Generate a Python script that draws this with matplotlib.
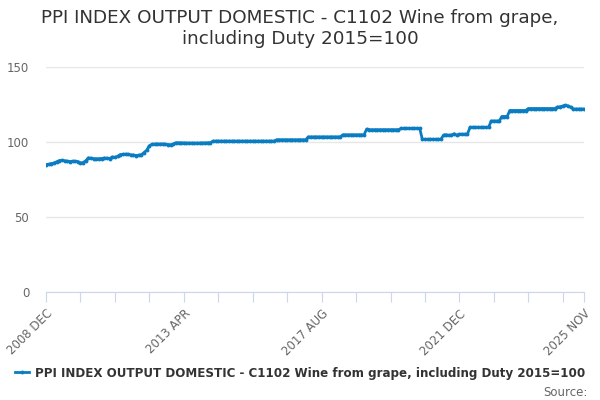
import matplotlib
matplotlib.use("Agg")
import matplotlib.pyplot as plt
import pandas as pd

TITLE = "PPI INDEX OUTPUT DOMESTIC - C1102 Wine from grape,\nincluding Duty 2015=100"
SERIES_NAME = "PPI INDEX OUTPUT DOMESTIC - C1102 Wine from grape, including Duty 2015=100"

# Monthly index values, 2008 DEC .. 2025 NOV
values = [
    85.0,                                                                     # 2008 Dec
    85.1, 85.6, 86.0, 86.8, 87.6, 87.8, 87.5, 87.2, 87.0, 87.2, 87.1, 87.0,  # 2009
    86.0, 86.3, 87.5, 89.4, 89.2, 88.9, 88.8, 88.9, 89.0, 89.3, 89.2, 89.0,  # 2010
    90.0, 89.8, 90.4, 91.6, 91.8, 91.9, 91.8, 91.4, 91.3, 91.0, 91.2, 91.5,  # 2011
    93.0, 94.5, 97.5, 98.5, 98.6, 98.7, 98.6, 98.7, 98.5, 98.3, 98.2, 98.6,  # 2012
    99.5, 99.5, 99.4, 99.4, 99.3, 99.3, 99.3, 99.2, 99.3, 99.3, 99.4, 99.4,  # 2013
    99.5, 99.5, 100.6, 100.6, 100.6, 100.6, 100.6, 100.6, 100.6, 100.6, 100.6, 100.6,  # 2014
    100.6, 100.6, 100.6, 100.6, 100.6, 100.6, 100.6, 100.6, 100.6, 100.6, 100.6, 100.6,  # 2015
    100.6, 100.6, 101.5, 101.5, 101.5, 101.5, 101.5, 101.5, 101.5, 101.5, 101.5, 101.5,  # 2016
    101.5, 101.5, 103.4, 103.4, 103.4, 103.4, 103.4, 103.4, 103.4, 103.4, 103.4, 103.4,  # 2017
    103.4, 103.4, 103.4, 104.8, 104.8, 104.8, 104.8, 104.8, 104.8, 104.8, 104.8, 104.8,  # 2018
    108.6, 108.2, 108.2, 108.2, 108.2, 108.2, 108.2, 108.2, 108.2, 108.2, 108.2, 108.2,  # 2019
    108.2, 109.1, 109.1, 109.1, 109.1, 109.1, 109.1, 109.1, 109.1, 101.8, 101.8, 101.8,  # 2020
    101.8, 101.8, 101.8, 101.8, 101.8, 104.6, 104.8, 104.5, 104.6, 105.5, 104.5, 105.2,  # 2021
    105.2, 105.2, 105.2, 109.8, 109.8, 109.8, 109.8, 109.8, 109.8, 109.8, 109.8, 114.0,  # 2022
    114.0, 114.0, 114.0, 117.0, 117.0, 117.0, 121.0, 121.0, 121.0, 121.0, 121.0, 121.0,  # 2023
    121.0, 122.3, 122.3, 122.3, 122.3, 122.3, 122.3, 122.3, 122.3, 122.3, 122.3, 122.3,  # 2024
    123.3, 123.5, 124.0, 124.5, 124.0, 123.2, 122.0, 122.0, 122.0, 122.0, 122.0,         # 2025
]
months = pd.period_range("2008-12", "2025-11", freq="M")
labels = [f"{p.year} {p.strftime('%b').upper()}" for p in months]

y_ticks = [0, 50, 100, 150]
LINE_COLOR = "#0a7dc2"
AXIS_COLOR = "#ccd6eb"

fig = plt.figure(figsize=(6, 4), dpi=100)
ax = fig.add_axes([46 / 600, 0.27, 538 / 600, 0.5625])

x = list(range(len(values)))
line, = ax.plot(x, values, color=LINE_COLOR, lw=2, marker="o", ms=2.8,
                markeredgewidth=0, label=SERIES_NAME)

ax.set_xlim(0, len(values) - 1)
ax.set_ylim(0, 150)
ax.set_yticks(y_ticks)
ax.grid(axis="y", color="#e6e6e6", lw=1)
ax.set_axisbelow(True)
ax.tick_params(axis="y", length=0, labelsize=8.5, labelcolor="#666666", pad=12)

# Highcharts-style category axis: tick marks every 13 months, labels every 52
tick_pos = list(range(0, len(values), 13)) + [len(values) - 1]
ax.set_xticks(tick_pos)
ax.set_xticklabels([labels[p] if p % 52 == 0 or p == len(values) - 1 else "" for p in tick_pos],
                   rotation=45, ha="right", rotation_mode="anchor")
ax.tick_params(axis="x", length=7, color=AXIS_COLOR, labelsize=8.5,
               labelcolor="#666666", pad=4)

for side in ("top", "right", "left"):
    ax.spines[side].set_visible(False)
ax.spines["bottom"].set_color(AXIS_COLOR)

fig.text(0.5, 1 - 9 / 400, TITLE, ha="center", va="top", fontsize=13.2,
         color="#333333", linespacing=1.2)

fig.legend(handles=[line], loc="center", bbox_to_anchor=(0.5, 1 - 373 / 400),
           frameon=False, numpoints=1, handlelength=1.2, handletextpad=0.45,
           prop={"weight": "bold", "size": 8.6}, labelcolor="#333333")
fig.text(588 / 600, 1 - 392 / 400, "Source:", ha="right", va="center",
         fontsize=8.5, color="#666666")

fig.savefig("out.png", dpi=100)
plt.close(fig)
